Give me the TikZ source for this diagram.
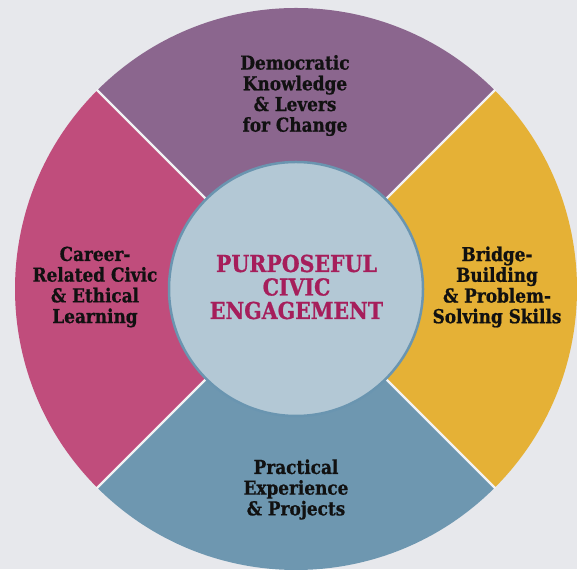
\documentclass[tikz,border=0pt]{standalone}
\usepackage{fontspec}
\newfontfamily\labfont{DejaVu Serif}[FakeStretch=0.88, BoldFeatures={FakeBold=0.8}]
\definecolor{bgc}{HTML}{E7E8EC}
\definecolor{sepc}{HTML}{F2F2F4}
\definecolor{purp}{HTML}{8B668E}
\definecolor{pinkc}{HTML}{C04D7C}
\definecolor{yell}{HTML}{E5B136}
\definecolor{bluec}{HTML}{6E97B0}
\definecolor{innerc}{HTML}{B3C8D5}
\definecolor{innerb}{HTML}{6A95B0}
\definecolor{titlec}{HTML}{A61E5B}
\definecolor{txtc}{HTML}{111111}
\tikzset{
  lab/.style={inner sep=0pt, align=center, text=txtc,
    font={\labfont\bfseries\fontsize{19.2}{20.7}\selectfont}},
  ttl/.style={inner sep=0pt, align=center, text=titlec,
    font={\labfont\bfseries\fontsize{23.3}{23.5}\selectfont}},
  sepline/.style={draw=sepc, line width=2.2pt}
}
\begin{document}
\begin{tikzpicture}[x=1pt,y=1pt]
\fill[bgc] (0,0) rectangle (577,569);
\useasboundingbox (0,0) rectangle (577,569);
\begin{scope}
\clip (0,0) rectangle (577,569);
\coordinate (C) at (296,280);
\fill[purp] (C) -- ++(45:281) arc[start angle=45,end angle=135,radius=281] -- cycle;
\fill[pinkc] (C) -- ++(135:281) arc[start angle=135,end angle=225,radius=281] -- cycle;
\fill[bluec] (C) -- ++(225:281) arc[start angle=225,end angle=315,radius=281] -- cycle;
\fill[yell] (C) -- ++(-45:281) arc[start angle=-45,end angle=45,radius=281] -- cycle;
\foreach \a in {45,135,225,315} \draw[sepline] (C) -- ++(\a:282);
\node[circle, minimum size=254pt, inner sep=0pt, fill=innerc, draw=innerb, line width=2.5pt] (hub) at (C) {};
\end{scope}
\node[ttl] (title) at (296.5,282) {PURPOSEFUL\\CIVIC\\ENGAGEMENT};
\node[lab] (top) at (295,473.5) {Democratic\\Knowledge\\\&\ Levers\\for Change};
\node[lab] (left) at (95,282) {Career-\\Related Civic\\\&\ Ethical\\Learning};
\node[lab] (right) at (497,282) {Bridge-\\Building\\\&\ Problem-\\Solving Skills};
\node[lab] (bottom) at (296,79.5) {Practical\\Experience\\\&\ Projects};
\end{tikzpicture}
\end{document}
